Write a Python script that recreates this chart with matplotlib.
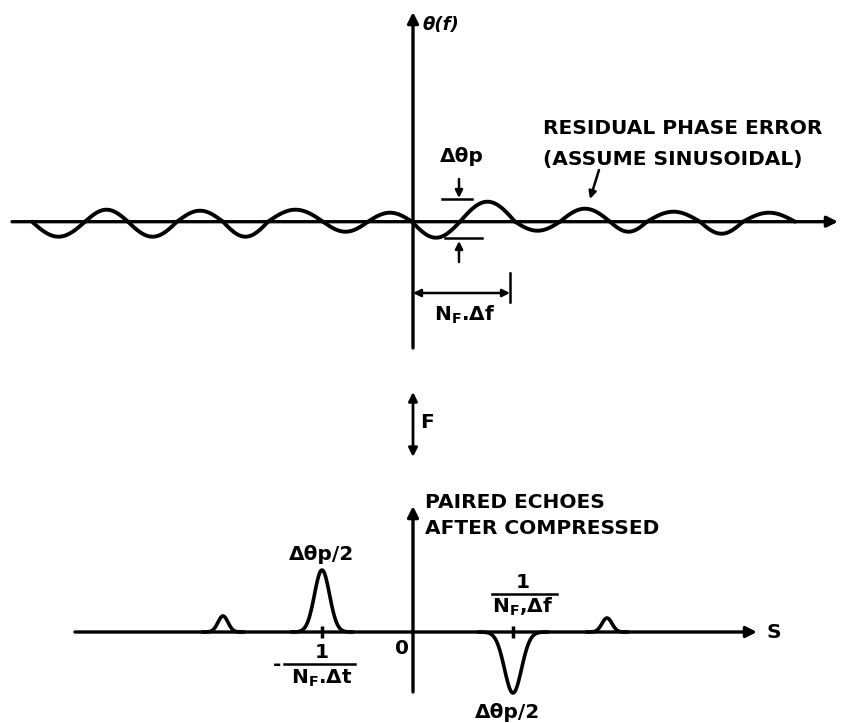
import matplotlib.pyplot as plt
import numpy as np

# everything is laid out in picture pixels (x right, y down)
top_axis_y = 221.7
bot_axis_y = 632.0
axis_x = 413.0

# residual phase error: zero crossings and the height of each half-lobe (+ = up)
lobe_edges = [32, 85, 128, 177, 223, 268, 323, 368, 412,
              460, 515, 560, 610, 647, 700, 743, 795]
lobe_amps = [-15, 12, -15, 11, -15, 12, -10, 9,
             -16, 20, -9, 13, -10, 10, -12, 9]

# paired echoes after compression
echo_pos = [223, 322, 513, 607]
echo_amp = [16, 62, -61, 14]
echo_width = [5.0, 7.5, 8.5, 5.0]

plt.rcParams['font.family'] = ['DejaVu Sans']
fig = plt.figure(figsize=(8.43, 7.23), dpi=100)
ax = fig.add_axes([0, 0, 1, 1])
ax.set_xlim(0, 843)
ax.set_ylim(723, 0)
ax.axis('off')

lw = 2.4
arr = dict(arrowstyle='-|>', lw=lw, color='black', mutation_scale=16,
           shrinkA=0, shrinkB=0)
small = dict(arrowstyle='-|>', lw=1.8, color='black', mutation_scale=11,
             shrinkA=0, shrinkB=0)
both = dict(arrowstyle='<|-|>', lw=1.8, color='black', mutation_scale=11,
            shrinkA=0, shrinkB=0)
txt = dict(fontsize=14.5, fontweight='bold', color='black')

# ---- top: theta(f) ----
ax.annotate('', xy=(838, top_axis_y), xytext=(12, top_axis_y), arrowprops=arr)
ax.annotate('', xy=(axis_x, 12), xytext=(axis_x, 348), arrowprops=arr)
for x0, x1, a in zip(lobe_edges[:-1], lobe_edges[1:], lobe_amps):
    xs = np.linspace(x0, x1, 40)
    ys = top_axis_y - a * np.sin(np.pi * (xs - x0) / (x1 - x0))
    ax.plot(xs, ys, color='black', lw=2.8, solid_capstyle='round')

ax.text(422, 25, 'θ(f)', ha='left', va='center', fontsize=13,
        fontweight='bold', fontstyle='italic')

# delta theta p marker
ax.text(462, 157, 'Δθp', ha='center', va='center', **txt)
ax.annotate('', xy=(459, 198), xytext=(459, 179), arrowprops=small)
ax.plot([442, 472], [199, 199], color='black', lw=1.8)
ax.plot([445, 482], [238, 238], color='black', lw=1.8)
ax.annotate('', xy=(459, 241), xytext=(459, 262), arrowprops=small)

# N_F . delta f dimension
ax.annotate('', xy=(510, 293), xytext=(axis_x, 293), arrowprops=both)
ax.plot([510, 510], [273, 302], color='black', lw=1.8)
ax.text(465, 315, r'N$_\mathbf{F}$.Δf', ha='center', va='center', **txt)

ax.text(543, 128, 'RESIDUAL PHASE ERROR', ha='left', va='center', **txt)
ax.text(543, 160, '(ASSUME SINUSOIDAL)', ha='left', va='center', **txt)
ax.annotate('', xy=(590, 199), xytext=(599, 170), arrowprops=small)

# ---- middle: F ----
ax.annotate('', xy=(axis_x, 457), xytext=(axis_x, 392),
            arrowprops=dict(arrowstyle='<|-|>', lw=2.0, color='black',
                            mutation_scale=13, shrinkA=0, shrinkB=0))
ax.text(420, 422, 'F', ha='left', va='center', **txt)

# ---- bottom: paired echoes ----
ax.annotate('', xy=(757, bot_axis_y), xytext=(75, bot_axis_y), arrowprops=arr)
ax.annotate('', xy=(axis_x, 506), xytext=(axis_x, 692), arrowprops=arr)
for c, a, w in zip(echo_pos, echo_amp, echo_width):
    xs = np.linspace(c - 4 * w, c + 4 * w, 80)
    ys = bot_axis_y - a * np.exp(-0.5 * ((xs - c) / w) ** 2)
    ax.plot(xs, ys, color='black', lw=2.6)
ax.plot(echo_pos[1:3], [bot_axis_y] * 2, ls='none', marker='|',
        ms=9, mew=2.5, color='black')

ax.text(425, 503, 'PAIRED ECHOES', ha='left', va='center', **txt)
ax.text(425, 528, 'AFTER COMPRESSED', ha='left', va='center', **txt)
ax.text(402, 648, '0', ha='center', va='center', **txt)
ax.text(766, 632, 'S', ha='left', va='center', **txt)

ax.text(322, 555, 'Δθp/2', ha='center', va='center', **txt)
ax.text(508, 712, 'Δθp/2', ha='center', va='center', **txt)

# -1 / (N_F . delta t)
ax.text(277, 664, '-', ha='center', va='center', **txt)
ax.text(322, 653, '1', ha='center', va='center', **txt)
ax.plot([284, 355], [664, 664], color='black', lw=1.8)
ax.text(322, 678, r'N$_\mathbf{F}$.Δt', ha='center', va='center', **txt)

# 1 / (N_F . delta f)
ax.text(523, 583, '1', ha='center', va='center', **txt)
ax.plot([492, 557], [594, 594], color='black', lw=1.8)
ax.text(523, 607, r'N$_\mathbf{F}$,Δf', ha='center', va='center', **txt)

plt.savefig('out.png', dpi=100, facecolor='white')
